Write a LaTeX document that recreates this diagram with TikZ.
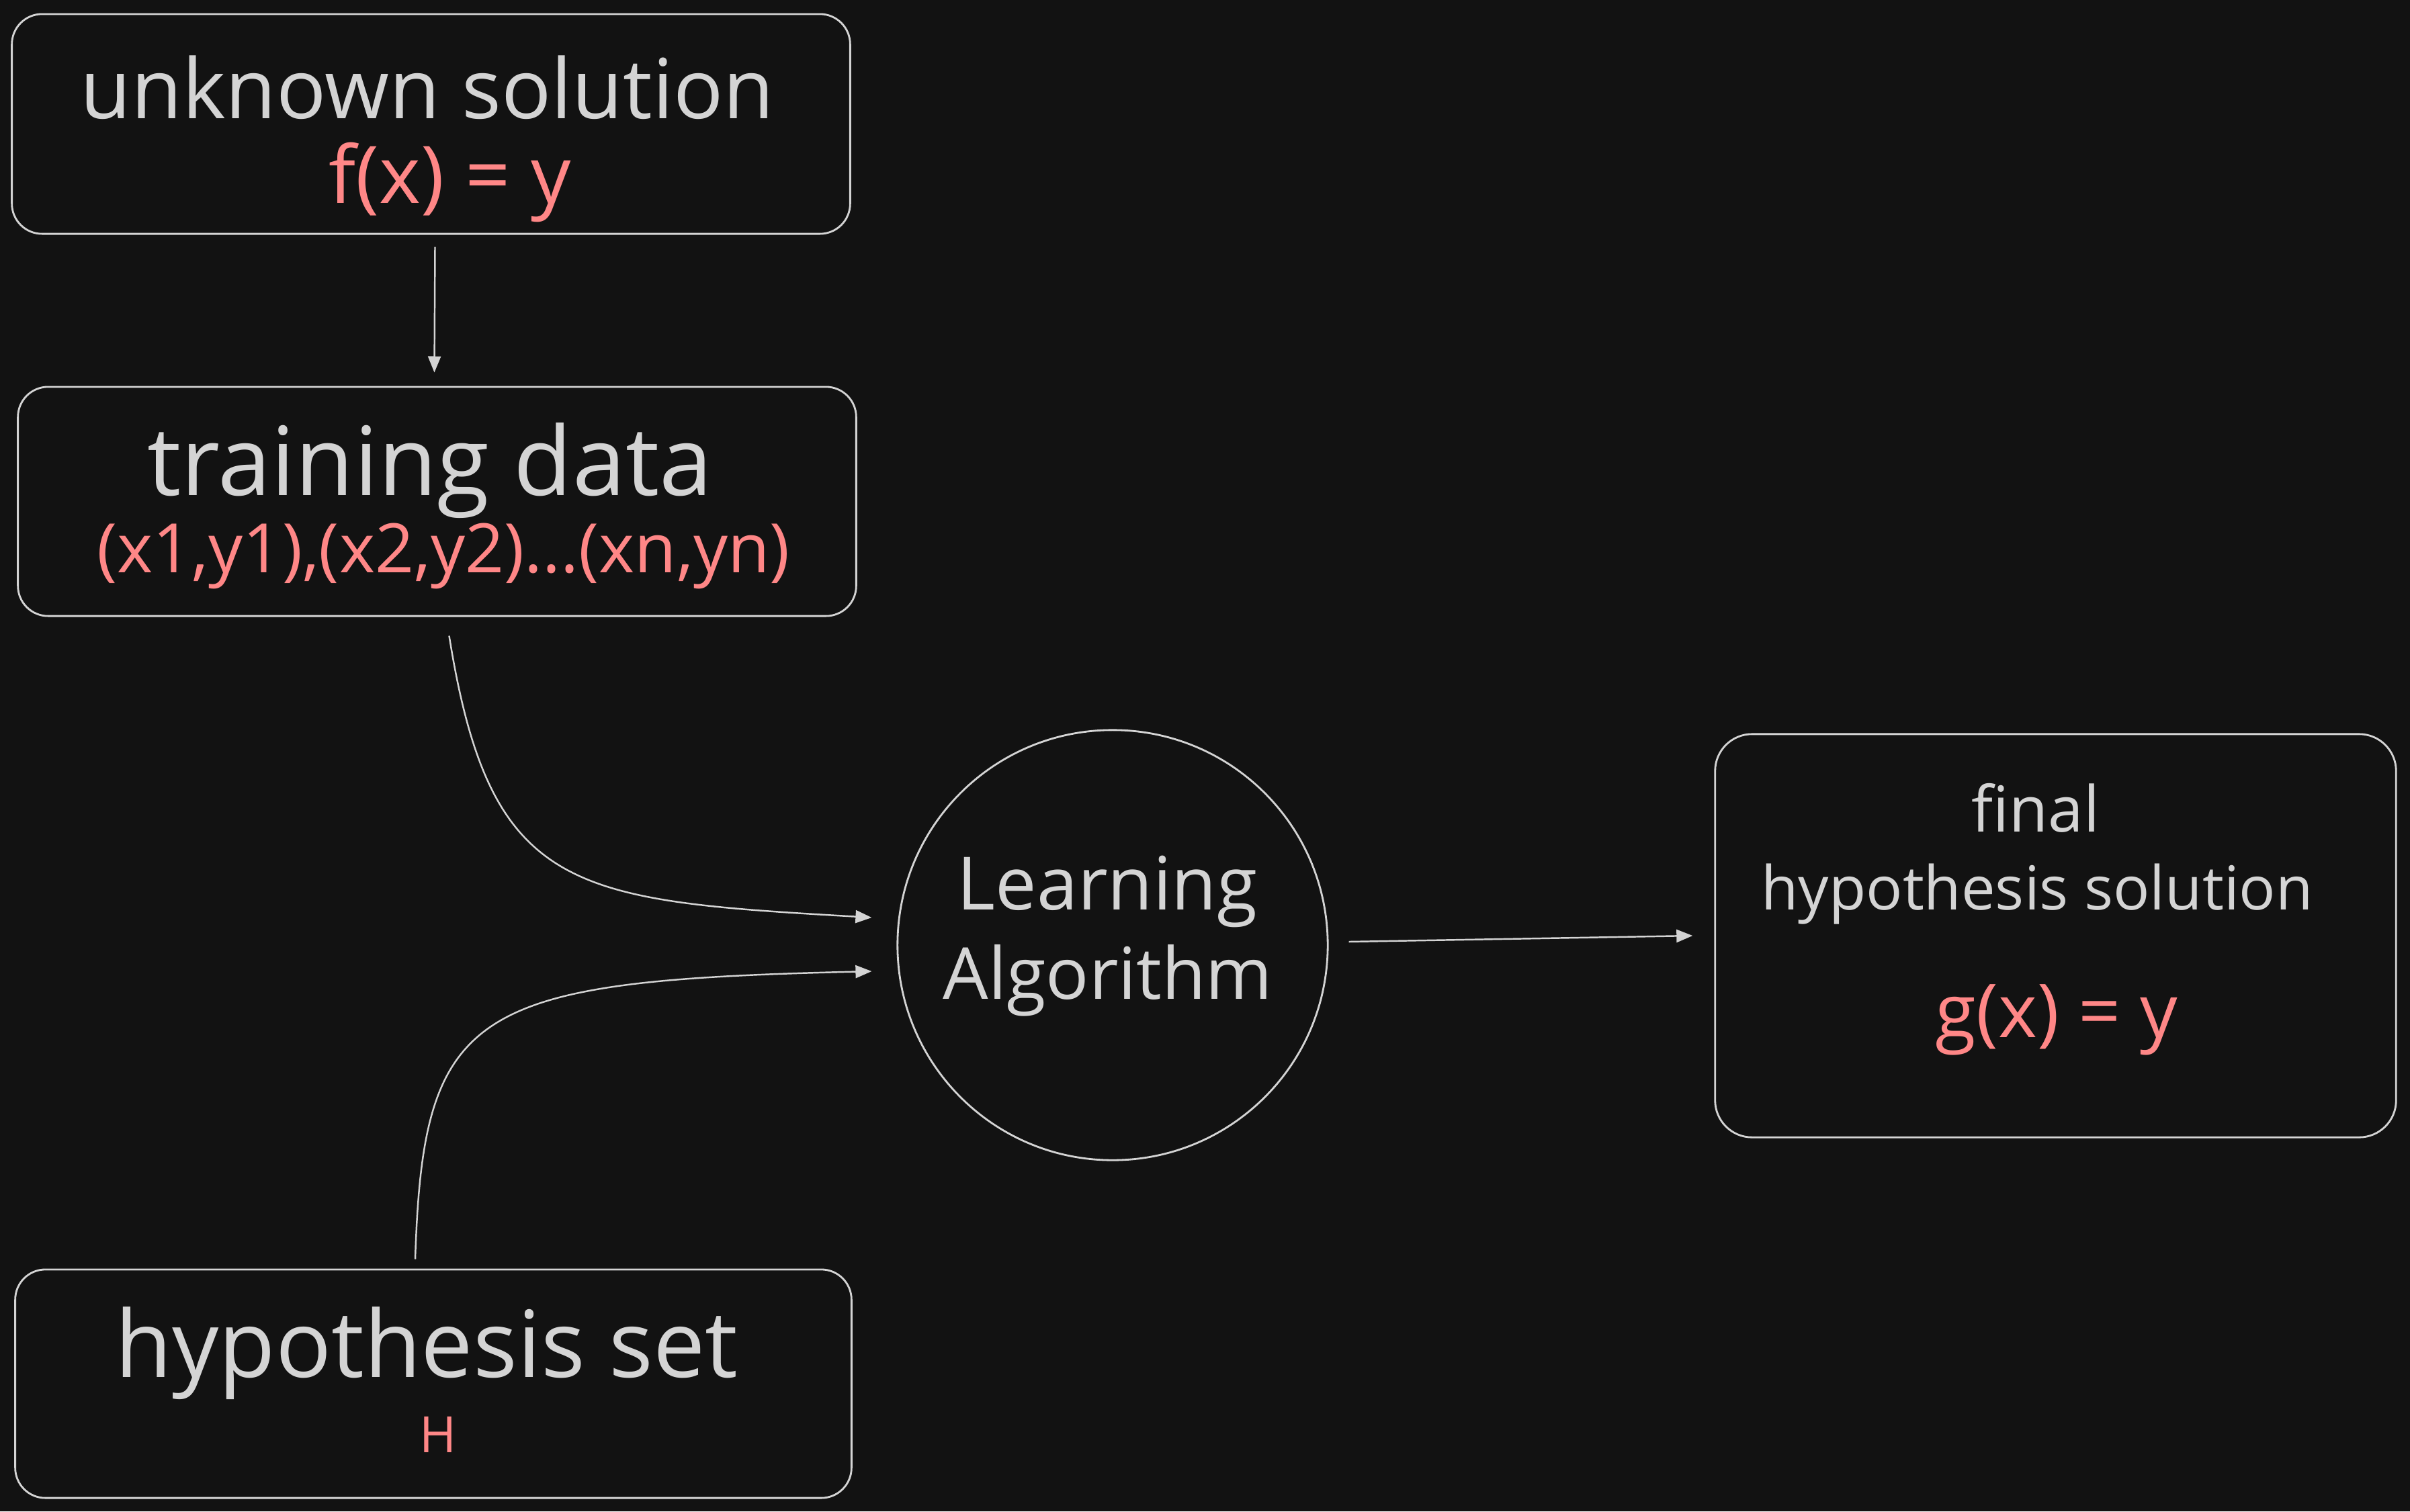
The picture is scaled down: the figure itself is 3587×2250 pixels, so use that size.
\documentclass[tikz,border=0pt]{standalone}
\usepackage{fontspec}
\setmainfont{Open Sans}
\usetikzlibrary{arrows.meta,calc}
\definecolor{bg}{HTML}{121212}
\definecolor{ink}{HTML}{D4D4D4}
\definecolor{redink}{HTML}{FF8787}
\newcommand\fitt[2]{\resizebox{#1}{!}{#2}}
\begin{document}
\begin{tikzpicture}[x=0.01cm,y=-0.01cm,
  box/.style={draw=ink, line width=0.8pt, rounded corners=0.45cm, inner sep=0pt},
  lbl/.style={text=ink, inner sep=0pt, anchor=base},
  rlbl/.style={text=redink, inner sep=0pt, anchor=base},
  arr/.style={draw=ink, line width=0.7pt, -{Triangle[length=0.24cm,width=0.19cm]}},
]
\fill[bg] (0,0) rectangle (3587,2250);
\useasboundingbox (0,0) rectangle (3587,2250);

% boxes
\node[box, minimum width=12.47cm, minimum height=3.27cm] (b1) at (641.5,184.5) {};
\node[box, minimum width=12.47cm, minimum height=3.41cm] (b2) at (650.5,746.5) {};
\node[box, minimum width=12.44cm, minimum height=3.40cm] (b3) at (645,2060) {};
\node[box, rounded corners=0.55cm, minimum width=10.13cm, minimum height=6.00cm] (b4) at (3059.5,1393) {};
\node[draw=ink, line width=0.8pt, circle, minimum size=6.4cm, inner sep=0pt] (la) at (1656,1407) {};

% texts
\node[lbl] (t1) at (636,176) {\fitt{10.32cm}{unknown solution}};
\node[rlbl] (t1r) at (670,302) {\fitt{3.6cm}{f(x) = y}};
\node[lbl] (t2) at (640,737) {\fitt{8.4cm}{training data}};
\node[rlbl] (t2r) at (660,852) {\fitt{10.3cm}{(x1,y1),(x2,y2)...(xn,yn)}};
\node[lbl] (t3) at (635,2050) {\fitt{9.26cm}{hypothesis set}};
\node[rlbl] (t3r) at (652,2162) {\fitt{0.55cm}{H}};
\node[lbl] (t4a) at (1648,1354) {\fitt{4.46cm}{Learning}};
\node[lbl] (t4b) at (1649,1487) {\fitt{4.90cm}{Algorithm}};
\node[lbl] (t5a) at (3030,1238) {\fitt{1.90cm}{final}};
\node[lbl] (t5b) at (3032,1354) {\fitt{8.21cm}{hypothesis solution}};
\node[rlbl] (t5r) at (3061,1544) {\fitt{3.6cm}{g(x) = y}};

% connectors
\draw[arr] ($(b1.south)+(6,18)$) -- ($(b2.north)+(-4,-20)$);
\draw[arr] ($(b2.south)+(18,28)$) .. controls (730,1330) and (850,1340) .. ($(la.west)+(-37,-41)$);
\draw[arr] ($(b3.north)+(-27,-14)$) .. controls (630,1500) and (700,1460) .. ($(la.west)+(-37,39)$);
\draw[arr] ($(la.east)+(30,-5)$) -- ($(b4.west)+(-32,0)$);
\end{tikzpicture}
\end{document}
